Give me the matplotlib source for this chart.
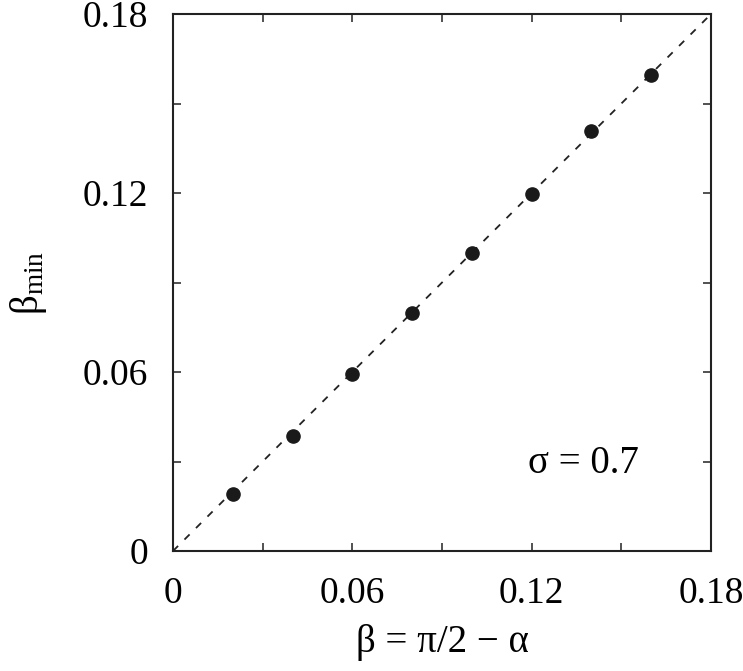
import matplotlib
matplotlib.use("Agg")
import numpy as np
from matplotlib import pyplot as plt

plt.rcParams["font.family"] = ["Liberation Serif", "DejaVu Serif"]
plt.rcParams["mathtext.fontset"] = "custom"
plt.rcParams["mathtext.rm"] = "Liberation Serif"
plt.rcParams["mathtext.it"] = "Liberation Serif"

FONTSIZE = 28
TICKSIZE = 27

beta = [0.02, 0.04, 0.06, 0.08, 0.10, 0.12, 0.14, 0.16]
beta_min = [0.0192, 0.0387, 0.0593, 0.0798, 0.0999, 0.1197, 0.1408, 0.1596]
ticks = [0, 0.06, 0.12, 0.18]
tick_labels = ["0", "0.06", "0.12", "0.18"]
minor_ticks = [0.03, 0.09, 0.15]

fig = plt.figure(figsize=(7.43, 6.71), dpi=100)
ax = fig.add_axes([0.2328, 0.1788, 0.7242, 0.8003])

ax.plot([0, 0.18], [0, 0.18], color="#222222", linestyle=(0, (4, 5)), linewidth=1.3, zorder=1)
ax.plot(beta, beta_min, "o", color="#1a1a1a", markersize=9.5, zorder=2)

ax.set_xlim(0, 0.18)
ax.set_ylim(0, 0.18)
ax.set_xticks(ticks)
ax.set_xticklabels(tick_labels)
ax.set_yticks(ticks)
ax.set_yticklabels(tick_labels)
ax.set_xticks(minor_ticks, minor=True)
ax.set_yticks(minor_ticks, minor=True)

for side in ax.spines.values():
    side.set_linewidth(1.5)
    side.set_color("#222222")

ax.tick_params(which="both", direction="in", top=True, right=True, length=6, width=1.1,
               color="#222222", labelsize=TICKSIZE)
ax.tick_params(axis="x", pad=18)
ax.tick_params(axis="y", pad=18)

ax.set_xlabel("β = π/2 − α", fontsize=FONTSIZE, labelpad=10)
ax.set_ylabel(r"$\mathrm{β}_{\mathrm{min}}$", fontsize=FONTSIZE, labelpad=24)
ax.text(0.1372, 0.0295, "σ = 0.7", fontsize=FONTSIZE, ha="center", va="center")

fig.savefig("out.png", dpi=100)
